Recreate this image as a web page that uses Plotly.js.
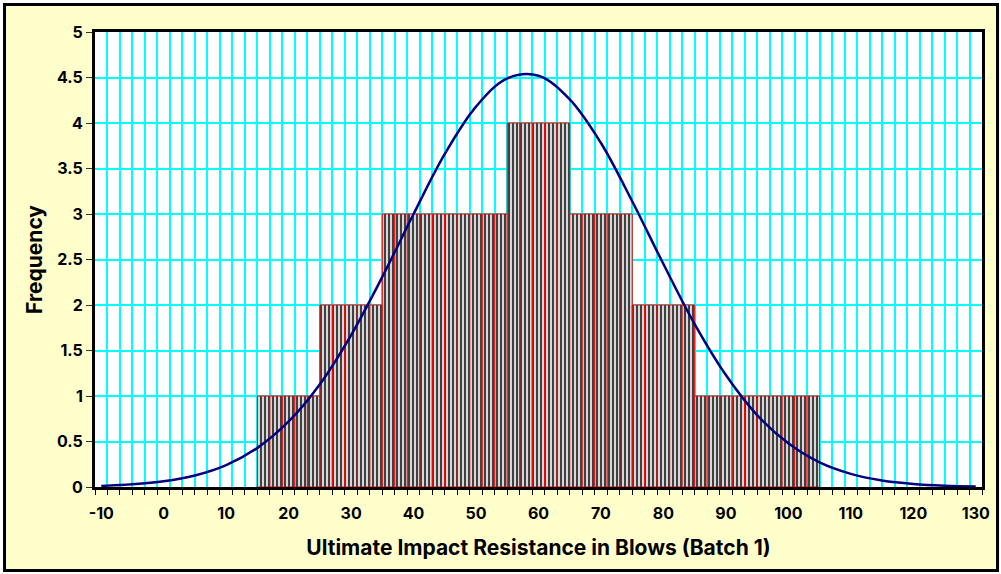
<!DOCTYPE html>
<html>
<head>
<meta charset="utf-8">
<script src="https://cdn.plot.ly/plotly-3.0.1.min.js"></script>
<style>
  html, body { margin: 0; padding: 0; background: #ffffff; }
  #chart { width: 1001px; height: 574px; }
</style>
</head>
<body>
<div id="chart"></div>
<script>
// ---- Data ----
// Histogram bins (lower edge, width 10) and frequencies
var binLower = [15, 25, 35, 45, 55, 65, 75, 85, 95];
var binWidth = 10;
var binFreq  = [1, 2, 3, 3, 4, 3, 2, 1, 1];
// Category spacing of the column chart (each column is 2 units wide)
var catStep = 2;

// Fitted normal curve
var curveX = [-10, -5, 0, 5, 10, 15, 20, 25, 30, 35, 40, 45, 50, 55, 60,
              65, 70, 75, 80, 85, 90, 95, 100, 105, 110, 115, 120, 125, 130];
var curveY = [0.012, 0.029, 0.062, 0.126, 0.24, 0.43, 0.72, 1.13, 1.67, 2.31, 3.00, 3.66, 4.18, 4.49, 4.52,
              4.26, 3.78, 3.14, 2.45, 1.79, 1.23, 0.79, 0.48, 0.27, 0.144, 0.072, 0.034, 0.015, 0.006];

// Axis labels
var xTickVals = [-10, 0, 10, 20, 30, 40, 50, 60, 70, 80, 90, 100, 110, 120, 130];
var yTickVals = [0, 0.5, 1, 1.5, 2, 2.5, 3, 3.5, 4, 4.5, 5];
var xTitle = 'Ultimate Impact Resistance in Blows (Batch 1)';
var yTitle = 'Frequency';

// ---- Build columns (one column per category inside each bin) ----
var barX = [], barY = [];
for (var i = 0; i < binLower.length; i++) {
  for (var c = binLower[i] + catStep / 2; c < binLower[i] + binWidth; c += catStep) {
    barX.push(c);
    barY.push(binFreq[i]);
  }
}

var FONT = 'Inter, "Liberation Sans", Arial, sans-serif';
var xRange = [-11, 131];

var traces = [
  {
    type: 'bar',
    x: barX,
    y: barY,
    width: catStep,
    xaxis: 'x',
    yaxis: 'y',
    marker: {
      color: '#ffffff',
      line: { color: '#ff0000', width: 1 },
      pattern: { shape: '|', fgcolor: '#404040', bgcolor: '#ffffff', size: 4, solidity: 0.6 }
    },
    showlegend: false
  },
  {
    type: 'scatter',
    mode: 'lines',
    x: curveX,
    y: curveY,
    xaxis: 'x2',
    yaxis: 'y',
    line: { color: '#000080', width: 2.5, shape: 'spline', smoothing: 1 },
    showlegend: false
  }
];

var layout = {
  width: 1001,
  height: 574,
  margin: { l: 95, r: 19, t: 32, b: 87, pad: 0 },
  paper_bgcolor: '#ffffff',
  plot_bgcolor: '#ffffff',
  bargap: 0,
  showlegend: false,
  font: { family: FONT, color: '#000000' },
  // grid / tick-mark axis: category boundaries every 2 units
  xaxis: {
    range: xRange,
    tickmode: 'linear',
    tick0: -11,
    dtick: catStep,
    ticks: 'outside',
    ticklen: 5,
    tickwidth: 1,
    tickcolor: '#000000',
    showticklabels: false,
    showgrid: true,
    gridcolor: '#00ffff',
    gridwidth: 2,
    zeroline: false,
    showline: true,
    linecolor: '#000000',
    linewidth: 3,
    mirror: true
  },
  // label axis
  xaxis2: {
    overlaying: 'x',
    anchor: 'y',
    side: 'bottom',
    range: xRange,
    tickmode: 'array',
    tickvals: xTickVals,
    ticktext: xTickVals.map(String),
    ticks: '',
    ticklabelstandoff: 15,
    showgrid: false,
    zeroline: false,
    showline: false,
    tickfont: { family: FONT, size: 16, weight: 'bold', color: '#000000' },
    title: { text: xTitle, font: { family: FONT, size: 21, weight: 'bold', color: '#000000' }, standoff: 18 }
  },
  yaxis: {
    range: [0, 5],
    tickmode: 'array',
    tickvals: yTickVals,
    ticktext: yTickVals.map(String),
    ticks: 'outside',
    ticklen: 6,
    tickwidth: 1,
    tickcolor: '#333333',
    showgrid: true,
    gridcolor: '#00ffff',
    gridwidth: 2,
    zeroline: false,
    showline: true,
    linecolor: '#000000',
    linewidth: 3,
    mirror: true,
    tickfont: { family: FONT, size: 16, weight: 'bold', color: '#000000' },
    title: { text: yTitle, font: { family: FONT, size: 21, weight: 'bold', color: '#000000' }, standoff: 9 }
  },
  shapes: [
    {
      type: 'rect', xref: 'paper', yref: 'paper', layer: 'below',
      x0: -0.1020, x1: 1.0175, y0: -0.1835, y1: 1.0604,
      fillcolor: '#ffffcc', line: { color: '#000000', width: 3 }
    },
    {
      type: 'rect', xref: 'paper', yref: 'paper', layer: 'below',
      x0: 0, x1: 1, y0: 0, y1: 1,
      fillcolor: '#ffffff', line: { width: 0 }
    }
  ]
};

Plotly.newPlot('chart', traces, layout, { displayModeBar: false, staticPlot: true });
</script>
</body>
</html>
